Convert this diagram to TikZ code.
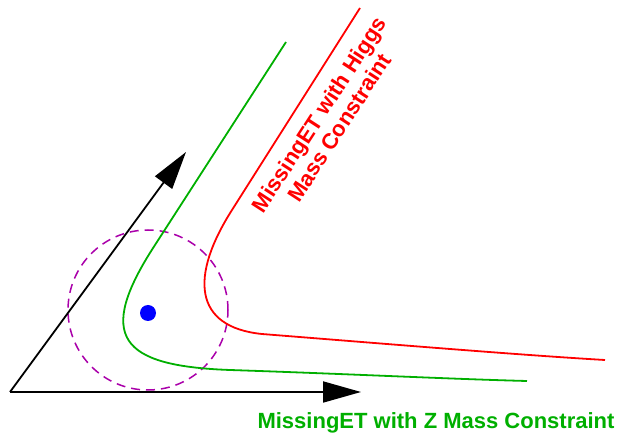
\documentclass[tikz,border=0pt]{standalone}
\usepackage{fontspec}
\setsansfont{Liberation Sans}
\usepackage{tikz}
\usetikzlibrary{arrows.meta, positioning}
\definecolor{curvaZ}{RGB}{0, 175, 0}
\definecolor{curvaH}{RGB}{255, 0, 0}
\definecolor{circulo}{RGB}{170, 0, 170}

\begin{document}
\begin{tikzpicture}[
            x=1pt, y=-1pt,
            every node/.style={font=\sffamily\bfseries\fontsize{22}{24}\selectfont, align=center},
            axis/.style={-{Triangle[length=38pt, width=21pt]}, line width=1.8pt, draw=black},
            curve/.style={line width=1.8pt},
            ring/.style={circle, draw=circulo, line width=1.5pt, dash pattern=on 9pt off 6pt, minimum size=160pt, inner sep=0pt},
            dot/.style={circle, fill=blue, minimum size=16pt, inner sep=0pt}
        ]
            \useasboundingbox (0,0) rectangle (619,435);
            \coordinate (origin) at (10,392);
            \coordinate (xtip) at (361,392);
            \coordinate (ytip) at (186,152);
            \node[ring] (cone) at (148,310) {};
            \node[dot] (met) at (148,313) {};
            \draw[axis] (origin) -- (xtip);
            \draw[axis] (origin) -- (ytip);
            % Z mass constraint
            \draw[curve, curvaZ] (286,42) -- (155,245) .. controls (95,337) and (120,366) .. (230,370)
                .. controls (350,374) and (450,379) .. (527,381);
            % Higgs mass constraint
            \draw[curve, curvaH] (360,8) -- (232,210) .. controls (190,276) and (193,327) .. (262,334)
                .. controls (400,345) and (520,355) .. (605,360);
            \node[text=curvaH, rotate=57] (higgs) at (329,121) {MissingET with Higgs\\Mass Constraint};
            \node[text=curvaZ] (zlabel) at (436,423) {MissingET with Z Mass Constraint};
        \end{tikzpicture}
\end{document}
